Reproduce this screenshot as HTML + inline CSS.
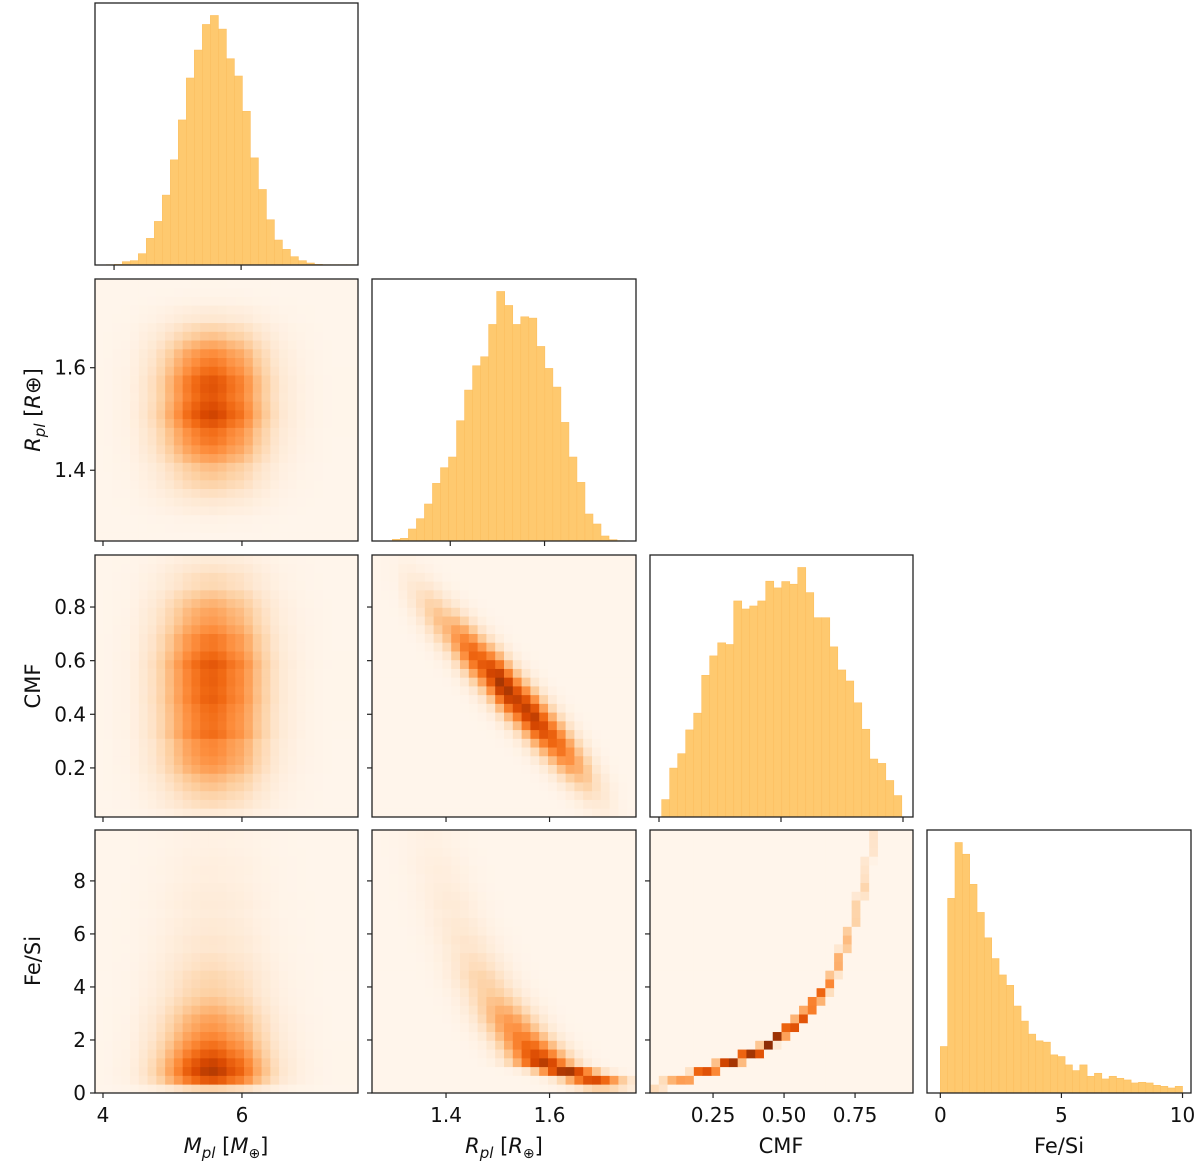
<!DOCTYPE html>
<html><head><meta charset="utf-8"><style>
html,body{margin:0;padding:0;background:#fff;}
svg{display:block;font-family:"DejaVu Sans","Liberation Sans",sans-serif;}
</style></head><body>
<svg id="c" width="1200" height="1168" viewBox="0 0 1200 1168" xmlns="http://www.w3.org/2000/svg"></svg>
<script>
// ---- data ----
const mplStart = 3.878, mplWidth = 0.126;
const mplHist = [1,2,10,13,34,80,131,210,316,436,562,646,723,750,709,620,568,462,322,227,136,75,47,25,13,6,2,1,1,1,1];
const rplStart = 1.2772, rplWidth = 0.01702;
const rplHist = [5,8,36,67,111,173,220,252,361,453,526,553,650,749,707,650,673,669,584,518,462,356,252,176,81,51,15,4,1];
const cmfStart = 0.011, cmfWidth = 0.0328;
const cmfHist = [52,146,189,260,310,423,481,520,515,645,621,630,645,704,684,703,695,745,670,595,595,508,439,406,341,262,173,160,109,64];
const fesiStart = 0, fesiWidth = 10/33;
const fesiHist = [139,582,749,714,624,540,464,402,353,322,260,215,176,156,152,114,109,84,67,84,50,59,42,50,44,39,30,32,30,23,20,15,20];
// ridge relations
const ridgeRplR = [1.27,1.49,1.76];
const ridgeRplC = [0.98,0.55,0.0];
const ridgeFeF = [0.4,1.1,2.5,4.3,6.5,9.5];
const ridgeFeR = [1.70,1.59,1.53,1.47,1.42,1.37];
const curveCmf = [0.0,0.063,0.204,0.415,0.556,0.66,0.73,0.785,0.81,0.83];
const curveFe = [0.1,0.3,0.75,1.6,2.75,4.1,6.0,8.0,9.5,10.5];
// ticks
const mplTicks = [4,6], rplTicks = [1.4,1.6], cmfTicksY = [0.2,0.4,0.6,0.8], fesiTicksY = [0,2,4,6,8];
const cmfTicksX = [0.25,0.5,0.75], cmfDiagTicks = [0,0.5,1], fesiTicksX = [0,5,10];
const cmfTickLabelsX = ["0.25","0.50","0.75"];

// ---- layout ----
const NS = "http://www.w3.org/2000/svg";
const svg = document.getElementById('c');
const colX = [[95,358],[372,636],[650,913],[927,1191]];
const rowY = [[3,265],[279,541],[555,817],[830,1093]];
const varX = [[3.885,7.67],[1.257,1.767],[0.028,0.954],[-0.55,10.35]];
const varY = [null,[1.262,1.773],[0.017,0.994],[0,9.92]];
const diagX = [[3.70,7.84],[1.234,1.794],[-0.0369,1.041],[-0.55,10.35]];

function el(tag, attrs, parent){const e=document.createElementNS(NS,tag);for(const k in attrs)e.setAttribute(k,attrs[k]);(parent||svg).appendChild(e);return e;}
function lin(d,r){return v=>r[0]+(v-d[0])/(d[1]-d[0])*(r[1]-r[0]);}
function interp(xs,ys,v){if(v<=xs[0])return ys[0];if(v>=xs[xs.length-1])return ys[ys.length-1];for(let i=0;i<xs.length-1;i++){if(v<=xs[i+1]){const t=(v-xs[i])/(xs[i+1]-xs[i]);return ys[i]+t*(ys[i+1]-ys[i]);}}}
function marg(h,s,w,v){const p=(v-s)/w-0.5;if(p< -1||p>h.length)return 0;const i=Math.floor(p),t=p-i;const a=(i>=0&&i<h.length)?h[i]:0,b=(i+1>=0&&i+1<h.length)?h[i+1]:0;return a+(b-a)*t;}
const mM=v=>marg(mplHist,mplStart,mplWidth,v), mR=v=>marg(rplHist,rplStart,rplWidth,v), mC=v=>marg(cmfHist,cmfStart,cmfWidth,v), mF=v=>marg(fesiHist,fesiStart,fesiWidth,v);
const stops=[[255,245,235],[254,230,206],[253,208,162],[253,174,107],[253,141,60],[241,105,19],[217,72,1],[166,54,3],[127,39,4]];
function cmap(t){t=Math.max(0,Math.min(1,t));const p=t*8,i=Math.min(7,Math.floor(p)),f=p-i;const a=stops[i],b=stops[i+1];return 'rgb('+a.map((c,k)=>Math.round(c+(b[k]-c)*f)).join(',')+')';}

function frame(c,r,name){
  const g=el('rect',{x:colX[c][0],y:rowY[r][0],width:colX[c][1]-colX[c][0],height:rowY[r][1]-rowY[r][0],fill:'none',stroke:'#222','stroke-width':1.3});
  
  
}
function xTicks(c,r,ticks,dom,labels){
  const sx=lin(dom,colX[c]);
  ticks.forEach((t,i)=>{const x=sx(t);
    const l=el('line',{x1:x,x2:x,y1:rowY[r][1],y2:rowY[r][1]+5,stroke:'#222','stroke-width':1.2});
    
    
    if(labels){const tx=el('text',{x:x,y:rowY[r][1]+29,'text-anchor':'middle','font-size':20,fill:'#111'});tx.textContent=labels[i];
      
      }
  });
}
function yTicks(c,r,ticks,dom,labels){
  const sy=lin(dom,[rowY[r][1],rowY[r][0]]);
  ticks.forEach((t,i)=>{const y=sy(t);
    const l=el('line',{x1:colX[c][0]-5,x2:colX[c][0],y1:y,y2:y,stroke:'#222','stroke-width':1.2});
    
    
    if(labels){const tx=el('text',{x:colX[c][0]-9,y:y+7,'text-anchor':'end','font-size':20,fill:'#111'});tx.textContent=labels[i];
      
      }
  });
}
function diagHist(c,h,s,w,name){
  const sx=lin(diagX[c],colX[c]);const mx=Math.max(...h)*1.05;const r=c;
  const sy=lin([0,mx],[rowY[r][1],rowY[r][0]]);
  const g=el('g',{});
  
  
  h.forEach((v,i)=>{const x0=sx(s+i*w),x1=sx(s+(i+1)*w);
    const b=el('rect',{x:x0,y:sy(v),width:x1-x0,height:rowY[r][1]-sy(v),fill:'#fec96f',stroke:'#fcbf60','stroke-width':0.6},g);
    
    
  });
  frame(c,r,name+'-hist');
}
function heat(c,r,dens,name,norm){
  const N=30,g=el('g',{});
  
  
  const xd=varX[c],yd=varY[r];const grid=[];let mx=0;
  for(let j=0;j<N;j++){grid.push([]);for(let i=0;i<N;i++){const xv=xd[0]+(i+0.5)/N*(xd[1]-xd[0]);const yv=yd[0]+(j+0.5)/N*(yd[1]-yd[0]);const d=(typeof dens==='function')?dens(xv,yv):0;grid[j].push(d);if(d>mx)mx=d;}}
  if(typeof dens!=='function'){for(let j=0;j<N;j++)for(let i=0;i<N;i++){grid[j][i]=dens[j][i];if(dens[j][i]>mx)mx=dens[j][i];}}
  const cw=(colX[c][1]-colX[c][0])/N,ch=(rowY[r][1]-rowY[r][0])/N;
  const k=norm||1.3;
  for(let j=0;j<N;j++)for(let i=0;i<N;i++){
    const t=mx?Math.pow(grid[j][i]/mx,0.85)/k:0;
    const cell=el('rect',{x:colX[c][0]+i*cw,y:rowY[r][1]-(j+1)*ch,width:cw+0.4,height:ch+0.4,fill:cmap(t)},g);
    
    
  }
  frame(c,r,name);
}
function depositCurve(){
  const N=30,grid=[];for(let j=0;j<N;j++)grid.push(new Array(N).fill(0));
  const xd=varX[2],yd=varY[3];
  for(let k=0;k<4000;k++){const C=k/4000;const F=interp(curveCmf,curveFe,C);const w=mC(C);
    const i=Math.floor((C-xd[0])/(xd[1]-xd[0])*N),j=Math.floor((F-yd[0])/(yd[1]-yd[0])*N);
    if(i>=0&&i<N&&j>=0&&j<N)grid[j][i]+=w;}
  return grid;
}

// diagonal histograms
diagHist(0,mplHist,mplStart,mplWidth,'mpl'); xTicks(0,0,mplTicks,diagX[0]);
diagHist(1,rplHist,rplStart,rplWidth,'rpl'); xTicks(1,1,rplTicks,diagX[1]);
diagHist(2,cmfHist,cmfStart,cmfWidth,'cmf'); xTicks(2,2,cmfDiagTicks,diagX[2]);
diagHist(3,fesiHist,fesiStart,fesiWidth,'fesi');
xTicks(3,3,fesiTicksX,varX[3],fesiTicksX.map(String));

// 2D panels
heat(0,1,(x,y)=>mM(x)*mR(y),'mpl-rpl',1.3);
heat(0,2,(x,y)=>mM(x)*mC(y),'mpl-cmf',1.45);
heat(1,2,(x,y)=>mR(x)*Math.exp(-Math.pow(y-interp(ridgeRplR,ridgeRplC,x),2)/(2*0.065*0.065)),'rpl-cmf',1.15);
heat(0,3,(x,y)=>mM(x)*mF(y),'mpl-fesi',1.2);
heat(1,3,(x,y)=>mF(y)*Math.exp(-Math.pow(x-interp(ridgeFeF,ridgeFeR,y),2)/(2*0.036*0.036)),'rpl-fesi',1.15);
heat(2,3,depositCurve(),'cmf-fesi',1.05);

// ticks on 2D panels
yTicks(0,1,rplTicks,varY[1],rplTicks.map(v=>v.toFixed(1)));
yTicks(0,2,cmfTicksY,varY[2],cmfTicksY.map(v=>v.toFixed(1)));
yTicks(0,3,fesiTicksY,varY[3],fesiTicksY.map(String));
yTicks(1,2,cmfTicksY,varY[2]); yTicks(1,3,fesiTicksY,varY[3]); yTicks(2,3,fesiTicksY,varY[3]);
xTicks(0,1,mplTicks,varX[0]); xTicks(0,2,mplTicks,varX[0]); xTicks(1,2,rplTicks,varX[1]);
xTicks(0,3,mplTicks,varX[0],mplTicks.map(String));
xTicks(1,3,rplTicks,varX[1],rplTicks.map(v=>v.toFixed(1)));
xTicks(2,3,cmfTicksX,varX[2],cmfTickLabelsX);
</script>
<svg width="1200" height="1168" style="position:absolute;left:0;top:0;pointer-events:none">
<g font-family="DejaVu Sans, Liberation Sans, sans-serif" font-size="21" fill="#111">
<text x="226" y="1153" text-anchor="middle"><tspan font-style="italic">M</tspan><tspan font-style="italic" font-size="15" dy="5">pl</tspan><tspan dy="-5"> [</tspan><tspan font-style="italic">M</tspan><tspan font-size="14" dy="5">⊕</tspan><tspan dy="-5">]</tspan></text>
<text x="504" y="1153" text-anchor="middle"><tspan font-style="italic">R</tspan><tspan font-style="italic" font-size="15" dy="5">pl</tspan><tspan dy="-5"> [</tspan><tspan font-style="italic">R</tspan><tspan font-size="14" dy="5">⊕</tspan><tspan dy="-5">]</tspan></text>
<text x="781" y="1153" text-anchor="middle">CMF</text>
<text x="1059" y="1153" text-anchor="middle">Fe/Si</text>
<text transform="translate(40,410) rotate(-90)" text-anchor="middle"><tspan font-style="italic">R</tspan><tspan font-style="italic" font-size="15" dy="5">pl</tspan><tspan dy="-5"> [</tspan><tspan font-style="italic">R</tspan><tspan>⊕]</tspan></text>
<text transform="translate(40,686) rotate(-90)" text-anchor="middle">CMF</text>
<text transform="translate(40,961) rotate(-90)" text-anchor="middle">Fe/Si</text>
</g></svg>
</body></html>
